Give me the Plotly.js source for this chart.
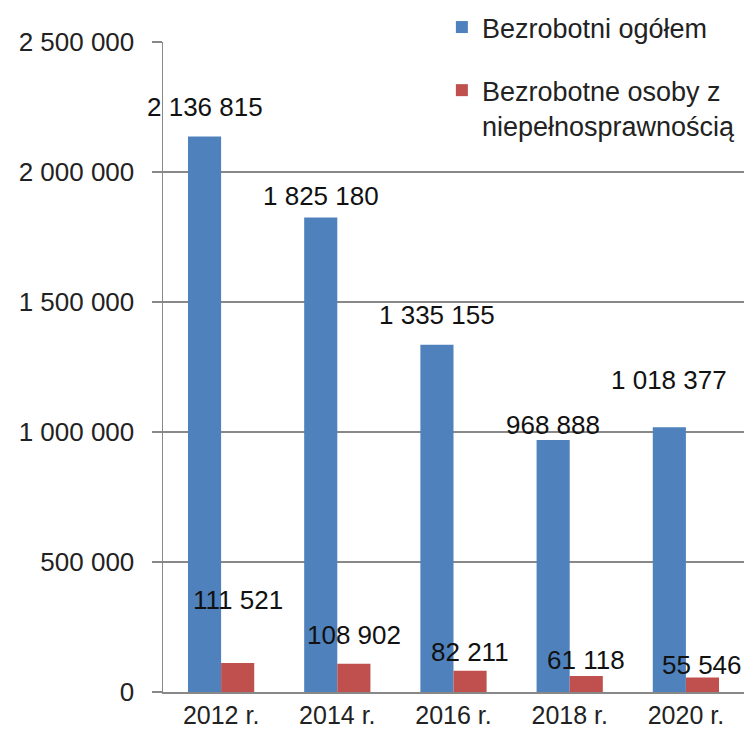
<!DOCTYPE html>
<html>
<head>
<meta charset="utf-8">
<script src="https://cdn.plot.ly/plotly-3.0.1.min.js"></script>
<style>html,body{margin:0;padding:0;background:#fff;}#chart{width:754px;height:729px;}</style>
</head>
<body>
<div id="chart"></div>
<script>
// ---- data ----
var categories = ["2012 r.", "2014 r.", "2016 r.", "2018 r.", "2020 r."];
var totalUnemployed = [2136815, 1825180, 1335155, 968888, 1018377];
var disabledUnemployed = [111521, 108902, 82211, 61118, 55546];
var seriesNames = ["Bezrobotni ogółem", "Bezrobotne osoby z<br>niepełnosprawnością"];
var yTickValues = [0, 500000, 1000000, 1500000, 2000000, 2500000];

// ---- label placement (pixels above bar top), kept apart from data ----
var shiftTotal = [29, 21, 30, 15, 47];
var shiftDisabled = [63, 29, 19, 16, 13];

var SEP = " ";
function fmt(v) {
  var s = String(Math.round(v));
  return s.replace(/\B(?=(\d{3})+(?!\d))/g, SEP);
}

var BLUE = "#4F81BD", RED = "#C0504D";
var FONT = "Liberation Sans, Arial, sans-serif";
var FS = 26;
var bargap = 0.43;
var half = (1 - bargap) / 4;

var traces = [
  {type: "bar", x: categories, y: totalUnemployed, name: seriesNames[0],
   marker: {color: BLUE}, legendgroup: "a", hoverinfo: "skip"},
  {type: "bar", x: categories, y: disabledUnemployed, name: seriesNames[1],
   marker: {color: RED}, legendgroup: "b", hoverinfo: "skip"}
];

var annotations = [];
categories.forEach(function (c, i) {
  annotations.push({x: i - half, y: totalUnemployed[i], xref: "x", yref: "y",
    text: fmt(totalUnemployed[i]), showarrow: false, yanchor: "middle",
    yshift: shiftTotal[i], font: {family: FONT, size: FS, color: "#111"}});
  annotations.push({x: i + half, y: disabledUnemployed[i], xref: "x", yref: "y",
    text: fmt(disabledUnemployed[i]), showarrow: false, yanchor: "middle",
    yshift: shiftDisabled[i], font: {family: FONT, size: FS, color: "#111"}});
});

var layout = {
  width: 754, height: 729,
  margin: {l: 163, r: 10, t: 42, b: 37, autoexpand: false},
  paper_bgcolor: "#fff", plot_bgcolor: "#fff",
  barmode: "group", bargap: bargap, bargroupgap: 0,
  font: {family: FONT, size: FS, color: "#222"},
  showlegend: true,
  legend: {x: 0.48, y: 1.06, xanchor: "left", yanchor: "top",
    bgcolor: "rgba(0,0,0,0)", font: {family: FONT, size: 27, color: "#222"},
    tracegroupgap: 25, valign: "top", traceorder: "grouped"},
  xaxis: {type: "category", range: [-0.5, categories.length - 0.5], autorange: false,
    showgrid: false, showline: true, linecolor: "#888",
    linewidth: 1.5, ticks: "", ticklabelstandoff: 0,
    tickfont: {family: FONT, size: 25, color: "#222"}, fixedrange: true},
  yaxis: {range: [0, 2500000], autorange: false, tickvals: yTickValues, ticktext: yTickValues.map(fmt),
    showgrid: true, gridcolor: "#888", gridwidth: 1.5, showline: true, linecolor: "#888",
    linewidth: 1.5, ticks: "outside", ticklen: 10, tickcolor: "#888", tickwidth: 1.5,
    ticklabelstandoff: 12, zeroline: false,
    tickfont: {family: FONT, size: FS, color: "#222"}, fixedrange: true},
  annotations: annotations
};

Plotly.newPlot("chart", traces, layout, {displayModeBar: false, staticPlot: true});
</script>
</body>
</html>
